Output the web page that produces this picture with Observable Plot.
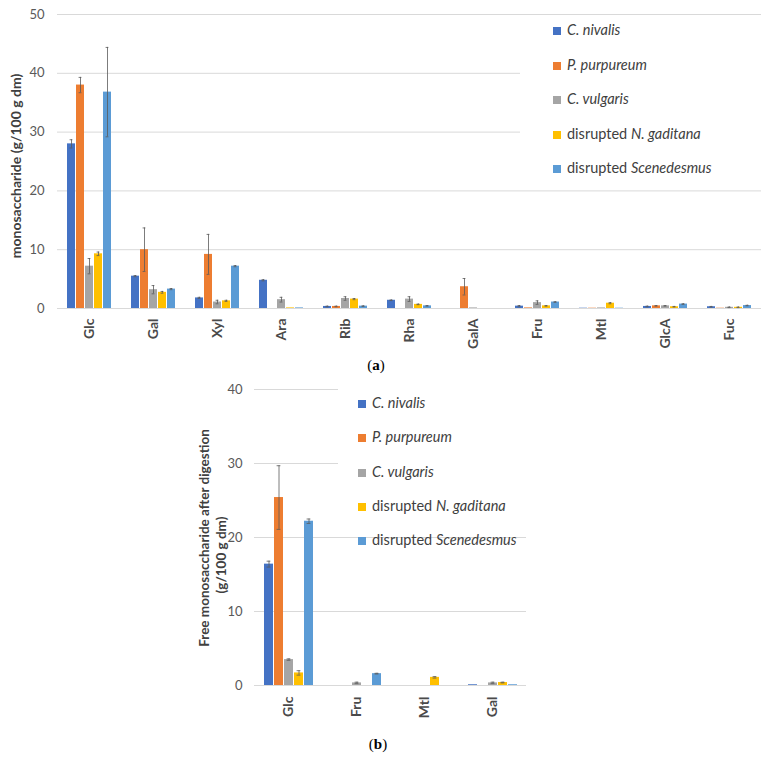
<!DOCTYPE html>
<html><head><meta charset="utf-8">
<script src="https://cdn.jsdelivr.net/npm/d3@7"></script>
<script src="https://cdn.jsdelivr.net/npm/@observablehq/plot@0.6"></script>
<style>
body{margin:0;background:#fff;}
#wrap{position:relative;width:771px;height:762px;font-family:Lato,sans-serif;overflow:hidden;background:#fff}
.abs{position:absolute}
svg text{font-family:Lato,sans-serif}
[aria-label^="y-axis"] text{font-size:13px;fill:#595959}
[aria-label^="fx-axis"] text{font-size:14px;font-weight:700;fill:#4a4a4a}
.lg{position:absolute;font-size:14.5px;color:#404040;white-space:nowrap;line-height:16px;height:16px}
.lg span.sw{display:inline-block;width:8px;height:8px;margin-right:6px;vertical-align:0px}
.ytitle{position:absolute;transform:translate(-50%,-50%) rotate(-90deg);white-space:nowrap;font-weight:700;font-size:14px;color:#404040}
.ytitle.b{font-size:13.5px}
.cap{position:absolute;font-family:"Liberation Serif",serif;font-size:15px;color:#000;transform:translateX(-50%)}
.box{position:absolute;background:#fff}
</style></head><body><div id="wrap"></div>
<script>
const series = ["C. nivalis","P. purpureum","C. vulgaris","disrupted N. gaditana","disrupted Scenedesmus"];
const legendHtml = ["<i>C. nivalis</i>","<i>P. purpureum</i>","<i>C. vulgaris</i>","disrupted <i>N. gaditana</i>","disrupted <i>Scenedesmus</i>"];
const colors = ["#4472C4","#ED7D31","#A5A5A5","#FFC000","#5B9BD5"];

// Panel (a): total monosaccharides
const catsA = ["Glc","Gal","Xyl","Ara","Rib","Rha","GalA","Fru","Mtl","GlcA","Fuc"];
const nivalisA      = [28.0, 5.5, 1.8, 4.8, 0.35, 1.4, 0,   0.4,  0.05, 0.35, 0.3];
const nivalisAErr   = [0.7,  0.1, 0.1, 0.1, 0.05, 0.05,0,   0.1,  0,    0.05, 0.05];
const purpureumA    = [38.0, 10.0,9.2, 0,   0.35, 0,   3.7, 0.1,  0.05, 0.45, 0.05];
const purpureumAErr = [1.3,  3.7, 3.4, 0,   0.05, 0,   1.4, 0,    0,    0.05, 0];
const vulgarisA     = [7.2,  3.2, 1.1, 1.5, 1.7,  1.6, 0.1, 1.0,  0.1,  0.45, 0.2];
const vulgarisAErr  = [1.3,  0.7, 0.3, 0.4, 0.3,  0.4, 0,   0.3,  0,    0.05, 0.05];
const gaditanaA     = [9.3,  2.75,1.3, 0.1, 1.6,  0.7, 0,   0.45, 0.9,  0.3,  0.2];
const gaditanaAErr  = [0.3,  0.15,0.1, 0,   0.1,  0.05,0,   0.05, 0.1,  0.05, 0.05];
const scenedesmusA    = [36.8, 3.3, 7.2, 0.1, 0.4, 0.45, 0, 1.1, 0.05, 0.75, 0.5];
const scenedesmusAErr = [7.6,  0.1, 0.1, 0,   0.05,0.05, 0, 0.05,0,    0.05, 0.05];
const ticksA = [0,10,20,30,40,50];

// Panel (b): free monosaccharides after digestion
const catsB = ["Glc","Fru","Mtl","Gal"];
const nivalisB      = [16.4, 0,    0,   0.1];
const nivalisBErr   = [0.4,  0,    0,   0];
const purpureumB    = [25.4, 0,    0,   0];
const purpureumBErr = [4.3,  0,    0,   0];
const vulgarisB     = [3.5,  0.35, 0,   0.35];
const vulgarisBErr  = [0.1,  0.1,  0,   0.1];
const gaditanaB     = [1.7,  0,    1.1, 0.4];
const gaditanaBErr  = [0.3,  0,    0.1, 0.05];
const scenedesmusB    = [22.2, 1.6,  0, 0.1];
const scenedesmusBErr = [0.3,  0.05, 0, 0];
const ticksB = [0,10,20,30,40];

function table(cats, vals, errs){
  const rows=[];
  cats.forEach((c,i)=>series.forEach((s,j)=>rows.push({cat:c, series:s, value:vals[j][i], err:errs[j][i]})));
  return rows;
}
const rowsA = table(catsA,[nivalisA,purpureumA,vulgarisA,gaditanaA,scenedesmusA],[nivalisAErr,purpureumAErr,vulgarisAErr,gaditanaAErr,scenedesmusAErr]);
const rowsB = table(catsB,[nivalisB,purpureumB,vulgarisB,gaditanaB,scenedesmusB],[nivalisBErr,purpureumBErr,vulgarisBErr,gaditanaBErr,scenedesmusBErr]);

function chart(rows, cats, o){
  const er = rows.filter(d=>d.err>0);
  return Plot.plot({
    width:771, height:o.height, marginLeft:o.ml, marginRight:o.mr, marginTop:o.mt, marginBottom:o.mb,
    style:{fontFamily:"Lato, sans-serif", background:"transparent", overflow:"visible"},
    fx:{domain:cats, padding:0, axis:"bottom", tickRotate:-90, tickSize:0, tickPadding:o.fxpad, label:null},
    x:{domain:series, paddingInner:0.15, paddingOuter:0.83, axis:null},
    y:{domain:[0,o.max], ticks:o.ticks, tickSize:0, tickPadding:o.ypad, label:null},
    color:{domain:series, range:colors},
    marks:[
      Plot.ruleY(o.ticks, {stroke:"#d9d9d9", strokeWidth:1}),
      Plot.barY(rows, {fx:"cat", x:"series", y:"value", fill:"series"}),
      Plot.ruleX(er, {fx:"cat", x:"series", y1:d=>d.value-d.err, y2:d=>d.value+d.err, stroke:"#5a5a5a", strokeWidth:0.8}),
      Plot.tickY(er, {fx:"cat", x:"series", y:d=>d.value+d.err, insetLeft:2.6, insetRight:2.6, stroke:"#5a5a5a", strokeWidth:0.8}),
      Plot.tickY(er, {fx:"cat", x:"series", y:d=>d.value-d.err, insetLeft:2.6, insetRight:2.6, stroke:"#5a5a5a", strokeWidth:0.8})
    ]
  });
}

const wrap = document.getElementById("wrap");
const a = chart(rowsA, catsA, {height:355, ml:56, mr:9, mt:14, mb:47, max:50, ticks:ticksA, ypad:13, fxpad:10});
a.classList.add("abs"); a.style.left="0px"; a.style.top="0px";
wrap.appendChild(a);
const b = chart(rowsB, catsB, {height:360, ml:253, mr:245, mt:14, mb:50, max:40, ticks:ticksB, ypad:12, fxpad:11});
b.classList.add("abs"); b.style.left="0px"; b.style.top="375px";
wrap.appendChild(b);

function addBox(x,y,w,h){const d=document.createElement("div");d.className="box";Object.assign(d.style,{left:x+"px",top:y+"px",width:w+"px",height:h+"px"});wrap.appendChild(d);}
function addLegend(x,y0,step){
  series.forEach((s,i)=>{
    const d=document.createElement("div");d.className="lg";
    d.style.left=x+"px";d.style.top=(y0+i*step-8)+"px";
    d.innerHTML=`<span class="sw" style="background:${colors[i]}"></span>${legendHtml[i]}`;
    wrap.appendChild(d);
  });
}
addBox(520,18,251,168);
addLegend(553,30,34.5);
addBox(338,381,200,147);
addLegend(358,403,34.3);

function addText(cls,html,x,y){const d=document.createElement("div");d.className=cls;d.innerHTML=html;d.style.left=x+"px";d.style.top=y+"px";wrap.appendChild(d);return d;}
addText("ytitle","monosaccharide (g/100 g dm)",15,166);
addText("ytitle b","Free monosaccharide after digestion",204,538);
addText("ytitle b","(g/100 g dm)",221,555);
addText("cap","(<b>a</b>)",376,357);
addText("cap","(<b>b</b>)",378,736);
</script></body></html>
